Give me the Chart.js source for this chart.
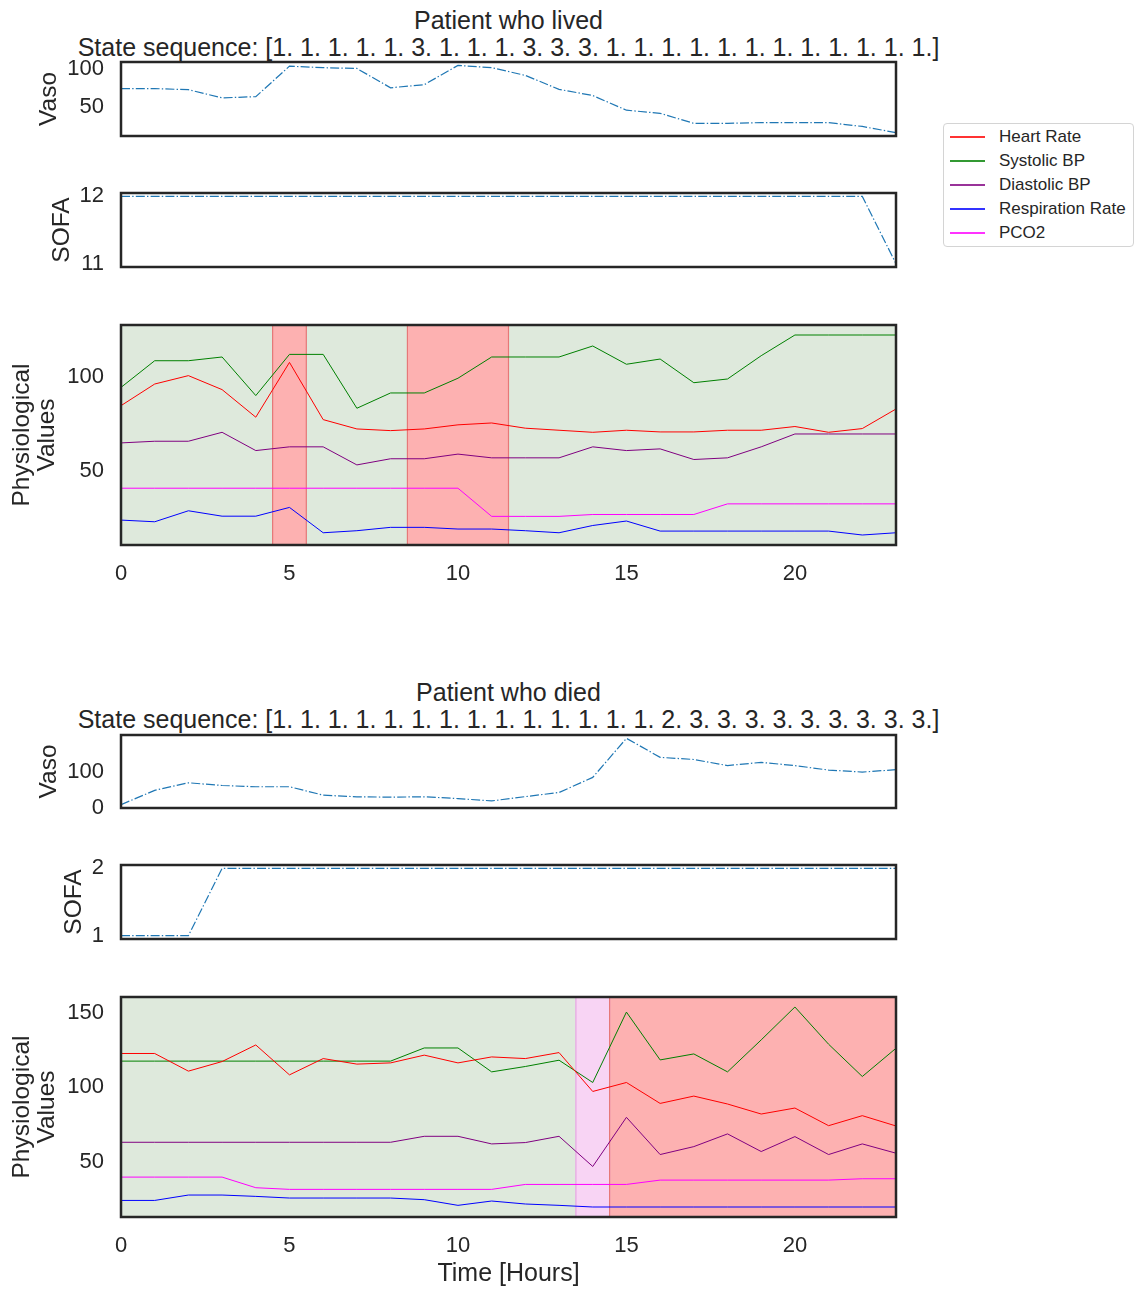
<!DOCTYPE html>
<html>
<head>
<meta charset="utf-8">
<script src="https://cdn.jsdelivr.net/npm/chart.js@4.4.1/dist/chart.umd.min.js"></script>
<style>
  body { margin: 0; background: #fff; }
  #fig { position: relative; width: 1145px; height: 1293px; font-family: "Liberation Sans", Arial, sans-serif; color: #262626; }
  .cv { position: absolute; left: 0; }
  .ttl { position: absolute; left: 0; width: 1017px; text-align: center; font-size: 25px; line-height: 28px; white-space: nowrap; }
  .legend { position: absolute; left: 943px; top: 123px; width: 191px; height: 124px; border: 1px solid #d4d4d4; border-radius: 4px; padding-top: 1px; box-sizing: border-box; }
  .legend .row { height: 24px; display: flex; align-items: center; font-size: 17px; }
  .legend .sw { display: inline-block; width: 35px; height: 2px; opacity: 0.8; margin-left: 6px; margin-right: 14px; }
</style>
</head>
<body>
<div id="fig"></div>
<script>
// hours on the x axis
const hours = [0, 1, 2, 3, 4, 5, 6, 7, 8, 9, 10, 11, 12, 13, 14, 15, 16, 17, 18, 19, 20, 21, 22, 23];
const xTicks = [0, 5, 10, 15, 20];

const seriesNames = ["Heart Rate", "Systolic BP", "Diastolic BP", "Respiration Rate", "PCO2"];
const seriesColors = ["#ff0000", "#008000", "#800080", "#0000ff", "#ff00ff"];

// patient who lived
const livedStates = [1, 1, 1, 1, 1, 3, 1, 1, 1, 3, 3, 3, 1, 1, 1, 1, 1, 1, 1, 1, 1, 1, 1, 1];
const livedVaso = [74, 74, 72.5, 62, 63.5, 103, 101, 100, 75, 79, 104, 101, 91, 73, 65, 46, 42, 29, 29, 30, 30, 30, 25, 17];
const livedSofa = [12, 12, 12, 12, 12, 12, 12, 12, 12, 12, 12, 12, 12, 12, 12, 12, 12, 12, 12, 12, 12, 12, 12, 11];
const livedHeartRate = [84.8, 96.4, 100.9, 93.4, 78.6, 108, 77.3, 72.3, 71.4, 72.3, 74.5, 75.5, 72.7, 71.6, 70.5, 71.6, 70.7, 70.7, 71.6, 71.6, 73.6, 70.5, 72.5, 83];
const livedSystolic = [94.6, 108.9, 108.9, 110.9, 90.2, 112.3, 112.3, 83.4, 91.6, 91.6, 99.5, 110.9, 110.9, 110.9, 116.8, 107, 109.8, 97.1, 99.1, 111.6, 122.7, 122.7, 122.7, 122.7];
const livedDiastolic = [64.8, 65.7, 65.7, 70.5, 60.7, 62.7, 62.7, 53, 56.3, 56.3, 58.8, 56.8, 56.8, 56.8, 62.7, 60.7, 61.6, 55.9, 56.8, 62.7, 69.6, 69.6, 69.6, 69.6];
const livedResp = [23.4, 22.5, 28.4, 25.5, 25.5, 30.2, 16.6, 17.7, 19.5, 19.5, 18.6, 18.6, 17.7, 16.6, 20.5, 22.9, 17.5, 17.5, 17.5, 17.5, 17.5, 17.5, 15.4, 16.6];
const livedPco2 = [40.5, 40.5, 40.5, 40.5, 40.5, 40.5, 40.5, 40.5, 40.5, 40.5, 40.5, 25.4, 25.4, 25.4, 26.4, 26.4, 26.4, 26.4, 32.1, 32.1, 32.1, 32.1, 32.1, 32.1];

// patient who died
const diedStates = [1, 1, 1, 1, 1, 1, 1, 1, 1, 1, 1, 1, 1, 1, 2, 3, 3, 3, 3, 3, 3, 3, 3, 3];
const diedVaso = [10, 50, 71, 63.5, 60, 60, 36.5, 32, 31, 32, 27, 20.5, 32.5, 44, 86, 195, 142, 136, 119, 128, 119, 106.5, 101, 107.5];
const diedSofa = [1, 1, 1, 2, 2, 2, 2, 2, 2, 2, 2, 2, 2, 2, 2, 2, 2, 2, 2, 2, 2, 2, 2, 2];
const diedHeartRate = [122.7, 122.7, 110.9, 117.3, 128.4, 108.4, 119.3, 115.6, 116.4, 121.6, 116.4, 120.4, 119.3, 123.3, 97.3, 103.3, 89.3, 94.2, 88.9, 82.2, 86.2, 74.4, 81.1, 74.2];
const diedSystolic = [117.6, 117.6, 117.6, 117.6, 117.6, 117.6, 117.6, 117.6, 117.6, 126.4, 126.4, 110.4, 114, 118.2, 103.3, 150.4, 118.4, 122.4, 110.4, 131.8, 153.8, 128.9, 107.3, 126.2];
const diedDiastolic = [63.3, 63.3, 63.3, 63.3, 63.3, 63.3, 63.3, 63.3, 63.3, 67.3, 67.3, 62.2, 63.1, 67.3, 47.1, 80, 55.1, 60.4, 68.9, 57.1, 67.1, 55.1, 62.2, 56];
const diedResp = [24.4, 24.4, 28, 28, 27.1, 26, 26, 26, 26, 24.9, 21.1, 24, 22, 21.1, 20, 20, 20, 20, 20, 20, 20, 20, 20, 20];
const diedPco2 = [40, 40, 40, 40, 32.9, 31.8, 31.8, 31.8, 31.8, 31.8, 31.8, 31.8, 35.1, 35.1, 35.1, 35.1, 38, 38, 38, 38, 38, 38, 38.9, 38.9];

// y tick labels
const livedVasoTicks = [50, 100];
const livedSofaTicks = [11, 12];
const livedPhysioTicks = [50, 100];
const diedVasoTicks = [0, 100];
const diedSofaTicks = [1, 2];
const diedPhysioTicks = [50, 100, 150];

const FONT = "'Liberation Sans', Arial, sans-serif";
const INK = "#262626";
const stateFill = { 1: "#dee9dc", 2: "#f8d4f4", 3: "#fdb1b1" };
const stateEdge = { 1: null, 2: "#e6a4e3", 3: "#e67878" };

Chart.defaults.font.family = FONT;
Chart.defaults.color = INK;

const fig = document.getElementById("fig");

// state spans, axes frame and rotated y label
const axesDeco = {
  id: "axesDeco",
  beforeDatasetsDraw(chart, args, opts) {
    const states = opts.states;
    if (!states) return;
    const { ctx, chartArea: a } = chart;
    const x = chart.scales.x;
    const runs = [];
    let i = 0;
    while (i < states.length) {
      let j = i;
      while (j + 1 < states.length && states[j + 1] === states[i]) j++;
      runs.push({
        s: states[i],
        x0: x.getPixelForValue(Math.max(hours[0], hours[i] - 0.5)),
        x1: x.getPixelForValue(Math.min(hours[hours.length - 1], hours[j] + 0.5))
      });
      i = j + 1;
    }
    ctx.save();
    runs.forEach(r => {
      ctx.fillStyle = stateFill[r.s];
      ctx.fillRect(r.x0, a.top, r.x1 - r.x0, a.bottom - a.top);
    });
    ctx.lineWidth = 1.2;
    runs.forEach(r => {
      if (!stateEdge[r.s]) return;
      ctx.strokeStyle = stateEdge[r.s];
      [r.x0, r.x1].forEach(px => {
        if (px <= a.left + 1 || px >= a.right - 1) return;
        ctx.beginPath();
        ctx.moveTo(px, a.top);
        ctx.lineTo(px, a.bottom);
        ctx.stroke();
      });
    });
    ctx.restore();
  },
  afterDraw(chart, args, opts) {
    const { ctx, chartArea: a } = chart;
    ctx.save();
    ctx.strokeStyle = INK;
    ctx.lineWidth = 2.5;
    ctx.strokeRect(a.left, a.top, a.right - a.left, a.bottom - a.top);
    ctx.fillStyle = INK;
    ctx.font = "24.5px " + FONT;
    ctx.textAlign = "center";
    ctx.textBaseline = "alphabetic";
    const cy = (a.top + a.bottom) / 2;
    (opts.lines || []).forEach((t, k) => {
      ctx.save();
      ctx.translate(opts.xs[k], cy);
      ctx.rotate(-Math.PI / 2);
      ctx.fillText(t, 0, 0);
      ctx.restore();
    });
    ctx.restore();
  }
};

function limits(series) {
  const all = [].concat(...series);
  const lo = Math.min(...all), hi = Math.max(...all);
  const m = (hi - lo) * 0.05;
  return [lo - m, hi + m];
}

function addText(cls, text, top) {
  const d = document.createElement("div");
  d.className = cls;
  d.style.top = top + "px";
  d.textContent = text;
  fig.appendChild(d);
}

function panel(top, bottom, series, colors, dashed, yTicks, yLabel, labelXs, states, showX) {
  // generous padding so the tick labels never squeeze the plot area
  const padTop = 40, padBottom = showX ? 0 : 40, xh = showX ? 48 : 0;
  const w = 910, h = (bottom - top) + padTop + padBottom + xh;
  const cv = document.createElement("canvas");
  cv.className = "cv";
  cv.width = w; cv.height = h;
  cv.style.top = (top - padTop) + "px";
  cv.style.width = w + "px"; cv.style.height = h + "px";
  fig.appendChild(cv);
  const [yMin, yMax] = limits(series);

  new Chart(cv.getContext("2d"), {
    type: "line",
    data: {
      datasets: series.map((vals, k) => ({
        label: dashed ? yLabel.join(" ") : seriesNames[k],
        data: hours.map((hr, i) => ({ x: hr, y: vals[i] })),
        borderColor: colors[k],
        borderWidth: dashed ? 1.2 : 1,
        borderDash: dashed ? [9, 2.2, 1.4, 2.2] : [],
        pointRadius: 0,
        fill: false,
        tension: 0
      }))
    },
    options: {
      responsive: false,
      animation: false,
      layout: { padding: { left: 0, right: 14, top: padTop, bottom: padBottom } },
      scales: {
        x: {
          type: "linear",
          min: hours[0],
          max: hours[hours.length - 1],
          grid: { display: false, drawTicks: false },
          border: { display: false },
          ticks: { display: showX, padding: 16, font: { size: 22 }, color: INK },
          afterBuildTicks: s => { s.ticks = xTicks.map(v => ({ value: v })); },
          afterFit: s => { s.height = xh; }
        },
        y: {
          min: yMin,
          max: yMax,
          grid: { display: false, drawTicks: false },
          border: { display: false },
          ticks: { padding: 17, font: { size: 22 }, color: INK },
          afterBuildTicks: s => { s.ticks = yTicks.map(v => ({ value: v })); },
          afterFit: s => { s.width = 121; }
        }
      },
      plugins: {
        legend: { display: false },
        tooltip: { enabled: false },
        axesDeco: { states: states, lines: yLabel, xs: labelXs }
      }
    },
    plugins: [axesDeco]
  });
}

const vasoColor = ["#1f77b4"];

// ---- patient who lived ----
addText("ttl", "Patient who lived", 6);
addText("ttl", "State sequence: [" + livedStates.map(s => s + ".").join(" ") + "]", 33);
panel(62, 136, [livedVaso], vasoColor, true, livedVasoTicks, ["Vaso"], [56], null, false);
panel(193, 267, [livedSofa], vasoColor, true, livedSofaTicks, ["SOFA"], [69], null, false);
panel(325, 545, [livedHeartRate, livedSystolic, livedDiastolic, livedResp, livedPco2], seriesColors, false,
      livedPhysioTicks, ["Physiological", "Values"], [29, 54], livedStates, true);

// ---- patient who died ----
addText("ttl", "Patient who died", 678);
addText("ttl", "State sequence: [" + diedStates.map(s => s + ".").join(" ") + "]", 705);
panel(735, 808, [diedVaso], vasoColor, true, diedVasoTicks, ["Vaso"], [56], null, false);
panel(865, 939, [diedSofa], vasoColor, true, diedSofaTicks, ["SOFA"], [81], null, false);
panel(997, 1217, [diedHeartRate, diedSystolic, diedDiastolic, diedResp, diedPco2], seriesColors, false,
      diedPhysioTicks, ["Physiological", "Values"], [29, 54], diedStates, true);

addText("ttl", "Time [Hours]", 1258);

// legend for the physiological series
const lg = document.createElement("div");
lg.className = "legend";
seriesNames.forEach((n, k) => {
  const row = document.createElement("div");
  row.className = "row";
  const sw = document.createElement("span");
  sw.className = "sw";
  sw.style.background = seriesColors[k];
  const tx = document.createElement("span");
  tx.textContent = n;
  row.appendChild(sw);
  row.appendChild(tx);
  lg.appendChild(row);
});
fig.appendChild(lg);
</script>
</body>
</html>
